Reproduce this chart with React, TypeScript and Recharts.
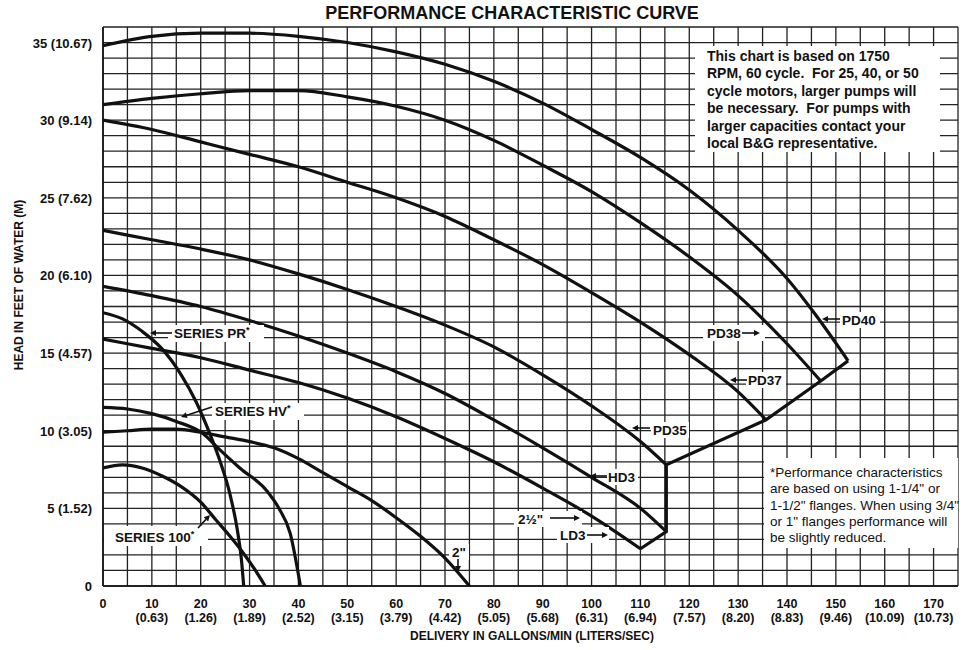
import React from "react";
import { LineChart, Line, XAxis, YAxis, CartesianGrid } from "recharts";

// axis ticks (grid every 5 gpm / 1 ft, labels every 10 gpm / 5 ft)
const gridGpm = [0, 5, 10, 15, 20, 25, 30, 35, 40, 45, 50, 55, 60, 65, 70, 75, 80, 85, 90, 95, 100, 105, 110, 115, 120, 125, 130, 135, 140, 145, 150, 155, 160, 165, 170, 175];
const gridFeet = [0, 1, 2, 3, 4, 5, 6, 7, 8, 9, 10, 11, 12, 13, 14, 15, 16, 17, 18, 19, 20, 21, 22, 23, 24, 25, 26, 27, 28, 29, 30, 31, 32, 33, 34, 35, 36];
const gpmLabels = [0, 10, 20, 30, 40, 50, 60, 70, 80, 90, 100, 110, 120, 130, 140, 150, 160, 170];
const lpsLabels = ["", "(0.63)", "(1.26)", "(1.89)", "(2.52)", "(3.15)", "(3.79)", "(4.42)", "(5.05)", "(5.68)", "(6.31)", "(6.94)", "(7.57)", "(8.20)", "(8.83)", "(9.46)", "(10.09)", "(10.73)"];
const feetLabels = [0, 5, 10, 15, 20, 25, 30, 35];
const meterLabels = ["", "(1.52)", "(3.05)", "(4.57)", "(6.10)", "(7.62)", "(9.14)", "(10.67)"];

// pump curves: [gpm, head ft]
const pd40 = [[0, 34.8], [10, 35.4], [20, 35.6], [30, 35.6], [40, 35.4], [50, 35.0], [60, 34.4], [70, 33.6], [80, 32.5], [90, 31.1], [100, 29.4], [110, 27.6], [120, 25.5], [130, 22.9], [140, 19.8], [146, 17.4], [152.5, 14.5]];
const pd38 = [[0, 31.0], [10, 31.4], [20, 31.7], [30, 31.9], [40, 31.9], [50, 31.5], [60, 30.9], [70, 30.0], [80, 28.7], [90, 27.1], [100, 25.4], [110, 23.4], [120, 21.2], [130, 18.7], [136, 16.9], [140, 15.6], [146.9, 13.2]];
const pd37 = [[0, 30.0], [10, 29.4], [20, 28.6], [30, 27.8], [40, 27.0], [50, 26.0], [60, 25.0], [70, 23.8], [80, 22.3], [90, 20.7], [100, 18.9], [110, 17.0], [120, 14.9], [130, 12.5], [135.7, 10.7]];
const pd35 = [[0, 22.9], [10, 22.3], [20, 21.7], [30, 21.0], [40, 20.1], [50, 19.1], [60, 18.0], [70, 16.8], [80, 15.4], [90, 13.6], [100, 11.6], [110, 9.3], [115.3, 7.8]];
const hd3 = [[0, 19.3], [10, 18.7], [20, 18.0], [30, 17.1], [40, 16.1], [50, 15.0], [60, 13.8], [70, 12.4], [80, 10.7], [90, 8.9], [100, 7.0], [110, 5.0], [115.3, 3.5]];
const ld3 = [[0, 15.9], [10, 15.3], [20, 14.7], [30, 13.9], [40, 13.1], [50, 12.1], [60, 10.9], [70, 9.5], [80, 8.0], [90, 6.3], [100, 4.5], [110, 2.4]];
const envelope = [[110, 2.4], [115.3, 3.5], [115.3, 7.8], [135.7, 10.7], [146.9, 13.2], [152.5, 14.5]];
const seriesPR = [[0, 17.6], [4, 17.2], [8, 16.4], [12, 15.3], [16, 13.6], [19, 11.9], [22, 9.7], [24, 8.0], [26, 5.9], [27.5, 3.6], [28.3, 1.8], [28.8, 0]];
const seriesHV = [[0, 11.5], [5, 11.4], [10, 11.1], [15, 10.6], [20.5, 9.8], [23.5, 8.9], [28, 7.6], [33.6, 6.1], [36, 5.0], [38.3, 3.4], [40.4, 0]];
const twoInch = [[0, 9.9], [5, 10.0], [10, 10.1], [15, 10.1], [20, 9.9], [25, 9.6], [30, 9.3], [35, 8.9], [40, 8.2], [45, 7.3], [50, 6.4], [55, 5.5], [60, 4.4], [65, 3.2], [70, 1.8], [75, 0]];
const series100 = [[0, 7.6], [4, 7.8], [8, 7.6], [12, 7.1], [16, 6.4], [20, 5.4], [23, 4.3], [26, 3.2], [29, 2.0], [31, 1.1], [33.2, 0]];

const curves = [
  { id: "pd40", pts: pd40, type: "monotone" },
  { id: "pd38", pts: pd38, type: "monotone" },
  { id: "pd37", pts: pd37, type: "monotone" },
  { id: "pd35", pts: pd35, type: "monotone" },
  { id: "hd3", pts: hd3, type: "monotone" },
  { id: "ld3", pts: ld3, type: "monotone" },
  { id: "env", pts: envelope, type: "linear" },
  { id: "pr", pts: seriesPR, type: "monotone" },
  { id: "hv", pts: seriesHV, type: "monotone" },
  { id: "two", pts: twoInch, type: "monotone" },
  { id: "s100", pts: series100, type: "monotone" },
];

const SANS = "'Liberation Sans', Arial, Helvetica, sans-serif";

function GpmTick({ x, y, payload }: any) {
  const i = gpmLabels.indexOf(payload.value);
  if (i < 0) return null;
  return (
    <g fontFamily={SANS} fontWeight="bold" fontSize={12.5} fill="#111" textAnchor="middle">
      <text x={x} y={y + 14}>{gpmLabels[i]}</text>
      {lpsLabels[i] && <text x={x} y={y + 28}>{lpsLabels[i]}</text>}
    </g>
  );
}

function HeadTick({ x, y, payload }: any) {
  const i = feetLabels.indexOf(payload.value);
  if (i < 0) return null;
  const txt = meterLabels[i] ? `${feetLabels[i]} ${meterLabels[i]}` : `${feetLabels[i]}`;
  return (
    <text x={x - 3} y={y + 5} textAnchor="end" fontFamily={SANS} fontWeight="bold" fontSize={13} fill="#111">
      {txt}
    </text>
  );
}

function Arrow({ x1, y1, x2, y2 }: { x1: number; y1: number; x2: number; y2: number }) {
  const a = Math.atan2(y2 - y1, x2 - x1);
  const L = 6, W = 3;
  const bx = x2 - L * Math.cos(a), by = y2 - L * Math.sin(a);
  const p1 = `${bx + W * Math.sin(a)},${by - W * Math.cos(a)}`;
  const p2 = `${bx - W * Math.sin(a)},${by + W * Math.cos(a)}`;
  return (
    <g>
      <line x1={x1} y1={y1} x2={bx} y2={by} stroke="#111" strokeWidth={1.6} />
      <polygon points={`${x2},${y2} ${p1} ${p2}`} fill="#111" />
    </g>
  );
}

const labels = [
  { t: "SERIES PR", star: true, x: 174, y: 338, box: [168, 325, 96, 17], arrow: [172, 333, 150, 333] },
  { t: "SERIES HV", star: true, x: 215, y: 416, box: [212, 403, 92, 17], arrow: [212, 407, 181, 417] },
  { t: "SERIES 100", star: true, x: 115, y: 542, box: [104, 526, 104, 20], arrow: [198, 528, 210, 515] },
  { t: "2\"", star: false, x: 452, y: 557, box: [449, 544, 20, 16], arrow: [458, 559, 458, 572] },
  { t: "PD40", star: false, x: 842, y: 325, box: [840, 312, 40, 16], arrow: [840, 319, 822, 319] },
  { t: "PD38", star: false, x: 707, y: 338, box: [703, 325, 62, 16], arrow: [742, 333, 760, 333] },
  { t: "PD37", star: false, x: 748, y: 385, box: [746, 372, 40, 16], arrow: [747, 380, 730, 380] },
  { t: "PD35", star: false, x: 653, y: 435, box: [651, 422, 38, 16], arrow: [650, 428, 632, 428] },
  { t: "HD3", star: false, x: 608, y: 482, box: [607, 469, 31, 16], arrow: [607, 476, 590, 476] },
  { t: "2½\"", star: false, x: 518, y: 524, box: [514, 511, 68, 16], arrow: [550, 518, 580, 518] },
  { t: "LD3", star: false, x: 560, y: 540, box: [557, 527, 52, 16], arrow: [587, 535, 608, 535] },
];

const noteLines = [
  "This chart is based on 1750",
  "RPM, 60 cycle.  For 25, 40, or 50",
  "cycle motors, larger pumps will",
  "be necessary.  For pumps with",
  "larger capacities contact your",
  "local B&G representative.",
];
const footLines = [
  "*Performance characteristics",
  "are based on using 1-1/4\" or",
  "1-1/2\" flanges. When using 3/4\"",
  "or 1\" flanges performance will",
  "be slightly reduced.",
];

function Overlay() {
  return (
    <svg width={962} height={650} style={{ position: "absolute", left: 0, top: 0, pointerEvents: "none" }} fontFamily={SANS} fill="#111">
      <text x={512} y={19} textAnchor="middle" fontSize={18} fontWeight="bold">PERFORMANCE CHARACTERISTIC CURVE</text>
      <text transform="translate(23,285) rotate(-90)" textAnchor="middle" fontSize={12} fontWeight="bold">HEAD IN FEET OF WATER (M)</text>
      <text x={532} y={640} textAnchor="middle" fontSize={12} fontWeight="bold">DELIVERY IN GALLONS/MIN (LITERS/SEC)</text>

      <rect x={695} y={46} width={245} height={106} fill="#fff" />
      {noteLines.map((l, i) => (
        <text key={i} x={707} y={61 + i * 17.4} fontSize={14} fontWeight="bold" style={{ whiteSpace: "pre" }}>{l}</text>
      ))}

      <rect x={764} y={458} width={194} height={90} fill="#fff" />
      {footLines.map((l, i) => (
        <text key={i} x={770} y={477 + i * 16.3} fontSize={13.5}>{l}</text>
      ))}

      {labels.map((l, i) => (
        <g key={i}>
          <rect x={l.box[0]} y={l.box[1]} width={l.box[2]} height={l.box[3]} fill="#fff" />
          <text x={l.x} y={l.y} fontSize={13.5} fontWeight="bold">
            {l.t}
            {l.star && <tspan fontSize={9} dy={-5}>*</tspan>}
          </text>
          <Arrow x1={l.arrow[0]} y1={l.arrow[1]} x2={l.arrow[2]} y2={l.arrow[3]} />
        </g>
      ))}
    </svg>
  );
}

export default function App() {
  return (
    <div style={{ position: "absolute", left: 0, top: 0, width: 962, height: 650, background: "#fff" }}>
      <LineChart width={962} height={650} margin={{ top: 27, right: 4, bottom: 14, left: 0 }}>
        <CartesianGrid stroke="#222" strokeWidth={1.3} />
        <XAxis
          type="number"
          dataKey="x"
          domain={[0, 175]}
          ticks={gridGpm}
          interval={0}
          tick={<GpmTick />}
          tickLine={false}
          axisLine={{ stroke: "#111", strokeWidth: 1.6 }}
          height={50}
          allowDataOverflow
        />
        <YAxis
          type="number"
          dataKey="y"
          domain={[0, 36]}
          ticks={gridFeet}
          interval={0}
          tick={<HeadTick />}
          tickLine={false}
          axisLine={{ stroke: "#111", strokeWidth: 1.6 }}
          width={103}
          allowDataOverflow
        />
        {curves.map((c) => (
          <Line
            key={c.id}
            data={c.pts.map(([x, y]) => ({ x, y }))}
            dataKey="y"
            type={c.type as any}
            stroke="#111"
            strokeWidth={3.2}
            dot={false}
            activeDot={false}
            isAnimationActive={false}
          />
        ))}
      </LineChart>
      <Overlay />
    </div>
  );
}
